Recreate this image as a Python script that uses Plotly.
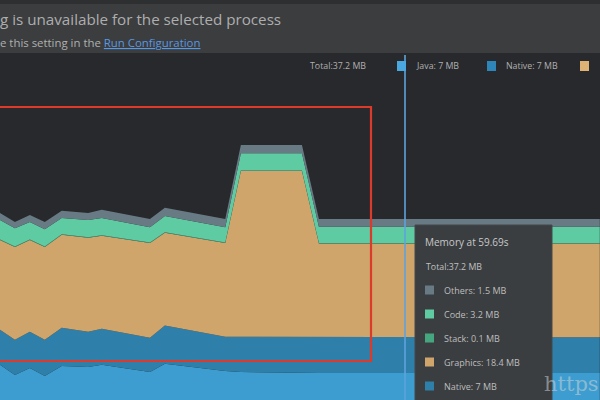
import plotly.graph_objects as go

# time (s) of each sample
time_s = [0.0, 2.2, 4.4, 6.6, 9.1, 13.0, 15.0, 22.1, 24.3, 33.2, 35.5, 44.5, 47.0, 88.4]
# memory per category (MB)
java_mb = [8.6, 6.6, 8.0, 6.4, 8.4, 8.2, 8.6, 7.2, 8.8, 7.4, 7.2, 7.0, 7.0, 7.0]
native_mb = [6.9, 6.9, 7.1, 7.1, 7.5, 6.9, 7.1, 6.7, 7.5, 6.7, 6.9, 7.1, 7.0, 7.0]
graphics_mb = [17.6, 18.2, 18.0, 18.2, 18.2, 18.4, 18.2, 18.6, 18.2, 18.4, 32.5, 32.5, 18.4, 18.4]
stack_mb = [0.1, 0.1, 0.1, 0.1, 0.1, 0.1, 0.1, 0.1, 0.1, 0.1, 0.1, 0.1, 0.1, 0.1]
code_mb = [3.8, 3.6, 3.4, 3.4, 3.2, 3.4, 3.4, 3.0, 3.2, 3.0, 3.4, 3.4, 3.2, 3.2]
others_mb = [1.4, 1.2, 1.4, 1.4, 1.4, 1.4, 1.6, 1.6, 1.6, 1.6, 1.6, 1.6, 1.5, 1.5]

series_names = ["Java", "Native", "Graphics", "Stack", "Code", "Others"]
series_colors = ["#3d9dd0", "#2e7fa9", "#cfa56c", "#45a77f", "#5ecba3", "#687b84"]

cursor_time = 59.69
tooltip_title = "Memory at 59.69s"
tooltip_total = "Total:37.2 MB"
tooltip_rows = ["Others: 1.5 MB", "Code: 3.2 MB", "Stack: 0.1 MB", "Graphics: 18.4 MB", "Native: 7 MB"]
tooltip_colors = ["#687b84", "#5ecba3", "#45a77f", "#cfa56c", "#2e7fa9"]
legend_total = "Total:37.2 MB"
legend_items = ["Java: 7 MB", "Native: 7 MB"]
legend_colors = ["#4aa8e0", "#2e86b8", "#ddb274"]

W, H = 600, 400
TOP = 53  # top of plot area in px
PH = H - TOP


def py(p):
    """pixel y -> paper y"""
    return (H - p) / PH


def px(x):
    return x / W


fig = go.Figure()
values = [java_mb, native_mb, graphics_mb, stack_mb, code_mb, others_mb]
for name, vals, col in zip(series_names, values, series_colors):
    fig.add_trace(go.Scatter(
        x=time_s, y=vals, name=name, mode="lines", stackgroup="mem",
        line=dict(width=0, color=col), fillcolor=col, hoverinfo="skip",
    ))

shapes = []
# header band
shapes.append(dict(type="rect", xref="paper", yref="paper", x0=0, x1=1, y0=1, y1=py(0),
                   fillcolor="#3b3d3f", line=dict(width=0), layer="below"))
shapes.append(dict(type="rect", xref="paper", yref="paper", x0=0, x1=1, y0=py(4), y1=py(0),
                   fillcolor="#2e2f31", line=dict(width=0), layer="below"))
# cursor line
shapes.append(dict(type="line", xref="x", yref="paper", x0=cursor_time, x1=cursor_time,
                   y0=0, y1=py(55), line=dict(color="#5ea3de", width=1.6)))
# red selection rectangle
shapes.append(dict(type="rect", xref="paper", yref="paper", x0=px(-5), x1=px(371),
                   y0=py(361), y1=py(107), line=dict(color="#dc3a2a", width=2.2),
                   fillcolor="rgba(0,0,0,0)"))
# tooltip box
shapes.append(dict(type="rect", xref="paper", yref="paper", x0=px(415), x1=px(552),
                   y0=py(405), y1=py(225), fillcolor="#3b3e41",
                   line=dict(color="#45484b", width=1)))
# tooltip squares
for i, c in enumerate(tooltip_colors):
    yc = 290 + 24 * i
    shapes.append(dict(type="rect", xref="paper", yref="paper", x0=px(425), x1=px(434),
                       y0=py(yc + 4.5), y1=py(yc - 4.5), fillcolor=c, line=dict(width=0)))
# legend squares
for xs, c in zip([397, 487, 580], legend_colors):
    shapes.append(dict(type="rect", xref="paper", yref="paper", x0=px(xs), x1=px(xs + 9),
                       y0=py(71), y1=py(61), fillcolor=c, line=dict(width=0)))

ann = []
FONT = "Open Sans"


def text(x, y, s, size, color="#b4b4b4", xanchor="left", family=FONT):
    ann.append(dict(x=px(x), y=py(y), xref="paper", yref="paper", text=s, showarrow=False,
                    xanchor=xanchor, yanchor="middle",
                    font=dict(family=family, size=size, color=color)))


text(-2, 19, "g is unavailable for the selected process", 15.2, "#aeaeae")
text(-2, 42, "e this setting in the <span style='color:#5a98e0'><u>Run Configuration</u></span>",
     11.4, "#b0b0b0")
text(368, 66, legend_total, 8.8, "#b0b0b0", "right")
text(414, 66, legend_items[0], 8.8, "#b0b0b0")
text(504, 66, legend_items[1], 8.8, "#b0b0b0")
text(423, 242, tooltip_title, 10, "#c8c8c8")
text(424, 267, tooltip_total, 8.8, "#c0c0c0")
for i, s in enumerate(tooltip_rows):
    text(442, 290 + 24 * i, s, 9, "#bdbdbd")
text(542, 384, "https", 21, "rgba(215,215,215,0.5)", family="DejaVu Serif")

fig.update_layout(
    width=W, height=H, margin=dict(l=0, r=0, t=TOP, b=0),
    paper_bgcolor="#3b3d3f", plot_bgcolor="#28292c",
    showlegend=False, shapes=shapes, annotations=ann,
    xaxis=dict(range=[0, 88.43], visible=False, fixedrange=True),
    yaxis=dict(range=[1.71, 69.75], visible=False, fixedrange=True),
)

fig.write_html("out.html")
